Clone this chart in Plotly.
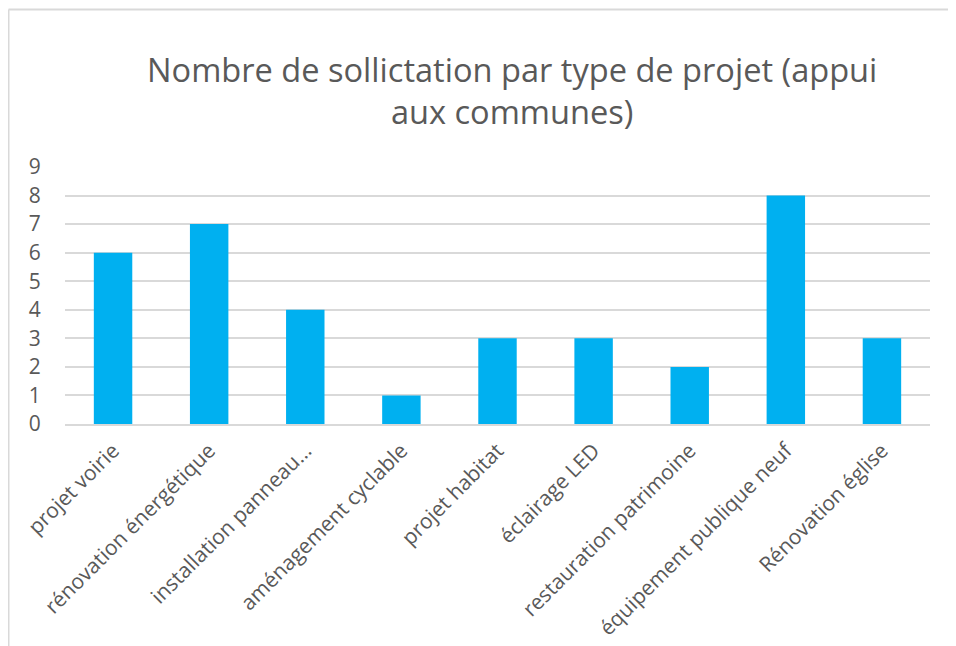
import plotly.graph_objects as go

categories = ["projet voirie", "rénovation énergétique", "installation panneau…",
              "aménagement cyclable", "projet habitat", "éclairage LED",
              "restauration patrimoine", "équipement publique neuf", "Rénovation église"]
values = [6, 7, 4, 1, 3, 3, 2, 8, 3]
y_ticks = list(range(0, 10))
title_text = "Nombre de sollictation par type de projet (appui<br>aux communes)"

# page body adds an 8px offset; work in figure coordinates
OFF = 8
W, H = 956, 646
L, R, T, B = 65 - OFF, 956 - (930 - OFF), 167 - OFF, 646 - (424 - OFF)
pw, ph = W - L - R, H - T - B

def px(x):
    return (x - OFF - L) / pw

def py(y):
    return (H - B - (y - OFF)) / ph

FONT = "Open Sans"
GREY = "#595959"
GRID = "#d9d9d9"

fig = go.Figure(go.Bar(x=categories, y=values, marker=dict(color="#00B0F0", line=dict(width=0))))

fig.update_layout(
    width=W, height=H,
    margin=dict(l=L, r=R, t=T, b=B),
    paper_bgcolor="white", plot_bgcolor="white",
    bargap=0.6,
    showlegend=False,
    font=dict(family=FONT, color=GREY),
    xaxis=dict(tickangle=-45, tickfont=dict(size=21, color=GREY, family=FONT),
               showgrid=False, showline=True, linecolor=GRID, linewidth=2,
               ticks="outside", ticklen=4, tickcolor="rgba(0,0,0,0)"),
    yaxis=dict(range=[0, 9], tickvals=y_ticks, tickfont=dict(size=21, color=GREY, family=FONT),
               showgrid=True, gridcolor=GRID, gridwidth=2, zeroline=False,
               showline=False, ticks="outside", ticklen=19, tickcolor="rgba(0,0,0,0)"),
    annotations=[dict(text=title_text, x=px(512), y=py(45), xref="paper", yref="paper",
                      xanchor="center", yanchor="top", showarrow=False,
                      font=dict(size=32.6, color=GREY, family=FONT))],
    shapes=[
        dict(type="line", xref="paper", yref="paper", x0=px(8.5), x1=px(970), y0=py(9.5), y1=py(9.5),
             line=dict(color=GRID, width=2)),
        dict(type="line", xref="paper", yref="paper", x0=px(8.5), x1=px(8.5), y0=py(9.5), y1=py(660),
             line=dict(color=GRID, width=2)),
    ],
)

fig.write_html("out.html")
